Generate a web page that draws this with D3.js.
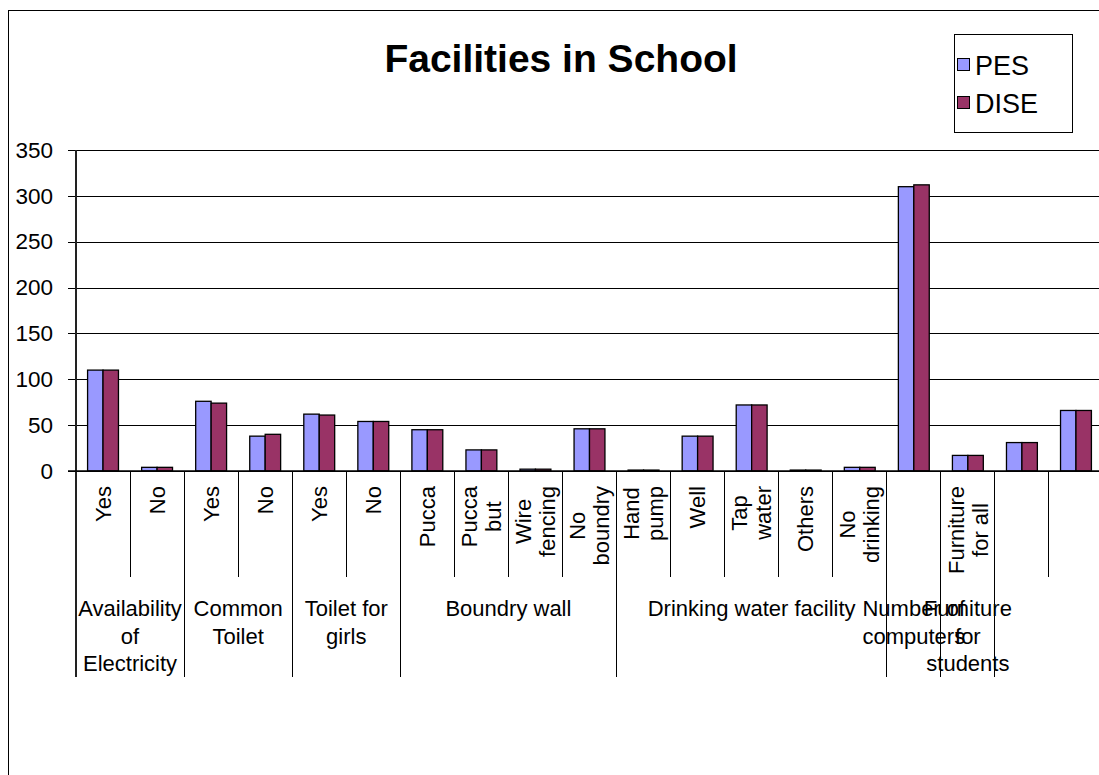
<!DOCTYPE html>
<html>
<head>
<meta charset="utf-8">
<script src="https://cdn.jsdelivr.net/npm/d3@7"></script>
<style>
  html, body { margin: 0; padding: 0; background: #fff; }
  svg { display: block; font-family: "Liberation Sans", Arial, sans-serif; }
</style>
</head>
<body>
<svg id="chart" width="1099" height="775"></svg>
<script>
// ---------------- data ----------------
const title = "Facilities in School";
const categories = ["Yes", "No", "Yes", "No", "Yes", "No", "Pucca", "Pucca\nbut", "Wire\nfencing", "No\nboundry",
  "Hand\npump", "Well", "Tap\nwater", "Others", "No\ndrinking", "", "Furniture\nfor all", "", ""];
const groupNames = ["Availability\nof\nElectricity", "Common\nToilet", "Toilet for\ngirls", "Boundry wall",
  "Drinking water facility", "Number of\ncomputers", "Furniture\nfor\nstudents", ""];
const groupSizes = [2, 2, 2, 4, 5, 1, 1, 2];
const seriesNames = ["PES", "DISE"];
const pesValues  = [110, 4, 76, 38, 62, 54, 45, 23, 2, 46, 1, 38, 72, 1, 4, 310, 17, 31, 66];
const diseValues = [110, 4, 74, 40, 61, 54, 45, 23, 2, 46, 1, 38, 72, 1, 4, 312, 17, 31, 66];
const yTicks = [0, 50, 100, 150, 200, 250, 300, 350];
const seriesColors = ["#9999FF", "#993366"];

// ---------------- layout ----------------
const plotLeft = 76, plotRight = 1103, plotTop = 150, plotBottom = 471;
const lvl1Bottom = 577, lvl2Bottom = 677;

const svg = d3.select("#chart");

// outer chart border
svg.append("rect").attr("x", 8.5).attr("y", 10.5).attr("width", 1200).attr("height", 900)
  .attr("fill", "none").attr("stroke", "#000").attr("stroke-width", 1);

const x0 = d3.scaleBand().domain(d3.range(categories.length)).range([plotLeft, plotRight]).padding(0);
const x1 = d3.scaleBand().domain(seriesNames).range([0, x0.bandwidth()]).paddingInner(0).paddingOuter(0.75);
const y = d3.scaleLinear().domain([0, 350]).range([plotBottom, plotTop]);
const color = d3.scaleOrdinal().domain(seriesNames).range(seriesColors);

// gridlines + y axis
const yAxis = d3.axisLeft(y).tickValues(yTicks).tickSize(plotRight - plotLeft + 8).tickPadding(14)
  .tickFormat(d3.format("d"));
const gy = svg.append("g").attr("transform", `translate(${plotRight},0)`).call(yAxis);
gy.select(".domain").remove();
gy.selectAll(".tick line").attr("stroke", "#000").attr("shape-rendering", "crispEdges");
gy.selectAll(".tick text").attr("font-size", 22.5).attr("fill", "#000")
  .attr("font-family", "Liberation Sans, Arial, sans-serif")
  .attr("x", -(plotRight - plotLeft + 8) - 15);

// y axis line (extends down through category label area)
svg.append("line").attr("x1", plotLeft).attr("x2", plotLeft).attr("y1", plotTop).attr("y2", lvl2Bottom)
  .attr("stroke", "#222").attr("stroke-width", 1.6).attr("shape-rendering", "crispEdges");

// bars
const rows = categories.map((c, i) => ({ i, vals: [pesValues[i], diseValues[i]] }));
const gBars = svg.append("g");
rows.forEach(r => {
  seriesNames.forEach((s, k) => {
    const v = r.vals[k];
    gBars.append("rect")
      .attr("x", x0(r.i) + x1(s))
      .attr("y", y(v))
      .attr("width", x1.bandwidth())
      .attr("height", y(0) - y(v))
      .attr("fill", color(s))
      .attr("stroke", "#000")
      .attr("stroke-width", 1.3);
  });
});

// x axis line
svg.append("line").attr("x1", plotLeft - 8).attr("x2", plotRight).attr("y1", plotBottom).attr("y2", plotBottom)
  .attr("stroke", "#000").attr("stroke-width", 1.3);

// group boundaries
const groupStarts = [];
let acc = 0;
groupSizes.forEach(n => { groupStarts.push(acc); acc += n; });
const boundarySet = new Set(groupStarts);

// category separators
for (let i = 1; i <= categories.length; i++) {
  const xx = i < categories.length ? x0(i) : plotRight;
  const isGroup = boundarySet.has(i) || i === categories.length;
  svg.append("line").attr("x1", xx).attr("x2", xx).attr("y1", plotBottom)
    .attr("y2", isGroup ? lvl2Bottom : lvl1Bottom)
    .attr("stroke", "#000").attr("stroke-width", 1).attr("shape-rendering", "crispEdges");
}

// level 1 (rotated) labels
const lvl1Top = 486, lvl1LineH = 24;
categories.forEach((c, i) => {
  if (!c) return;
  const lines = c.split("\n");
  const cx = x0(i) + x0.bandwidth() / 2;
  const g = svg.append("g");
  const texts = lines.map(l => g.append("text").text(l).attr("font-size", 22).attr("fill", "#000")
    .attr("text-anchor", "middle"));
  const maxW = d3.max(texts, t => t.node().getComputedTextLength());
  const cy = lvl1Top + maxW / 2;
  texts.forEach((t, j) => {
    const xx = cx + (j - (lines.length - 1) / 2) * lvl1LineH;
    t.attr("x", xx).attr("y", cy).attr("dy", "0.35em")
      .attr("transform", `rotate(-90,${xx},${cy})`);
  });
});

// level 2 labels
const lvl2FirstY = 616, lvl2LineH = 27.5;
groupNames.forEach((name, gi) => {
  if (!name) return;
  const start = groupStarts[gi], n = groupSizes[gi];
  const xs = x0(start), xe = start + n < categories.length ? x0(start + n) : plotRight;
  const cx = (xs + xe) / 2;
  name.split("\n").forEach((l, j) => {
    svg.append("text").text(l).attr("x", cx).attr("y", lvl2FirstY + j * lvl2LineH)
      .attr("text-anchor", "middle").attr("font-size", 22).attr("fill", "#000");
  });
});

// title
svg.append("text").text(title).attr("x", 561).attr("y", 72).attr("text-anchor", "middle")
  .attr("font-size", 39).attr("font-weight", "bold").attr("fill", "#000");

// legend
const lg = svg.append("g");
lg.append("rect").attr("x", 954.5).attr("y", 34.5).attr("width", 118).attr("height", 98)
  .attr("fill", "#fff").attr("stroke", "#000").attr("stroke-width", 1);
seriesNames.forEach((s, k) => {
  const cy = 65 + k * 38;
  lg.append("rect").attr("x", 957.5).attr("y", cy - 6.5).attr("width", 12).attr("height", 12)
    .attr("fill", color(s)).attr("stroke", "#000").attr("stroke-width", 1);
  lg.append("text").text(s).attr("x", 975).attr("y", cy).attr("dy", "0.36em")
    .attr("font-size", 27).attr("fill", "#000");
});
</script>
</body>
</html>
